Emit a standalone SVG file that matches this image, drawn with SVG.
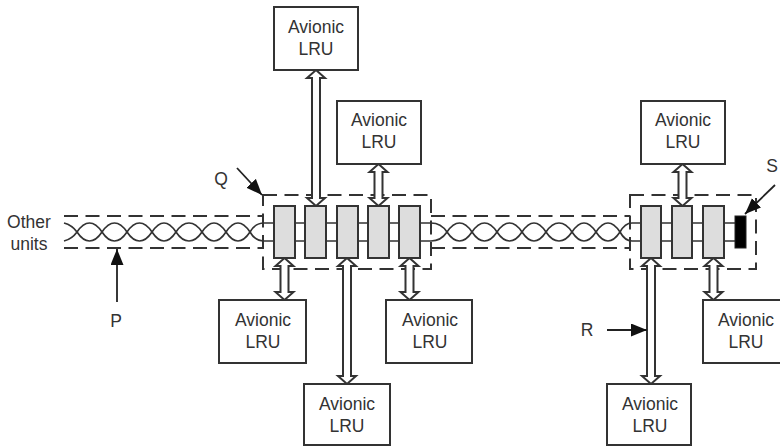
<svg xmlns="http://www.w3.org/2000/svg" width="780" height="446" viewBox="0 0 780 446">
<style>
text{font-family:"Liberation Sans",Arial,sans-serif;font-size:17.500px;fill:#333;text-anchor:middle}
.box{fill:#fff;stroke:#333;stroke-width:2}
.mod{fill:#ddd;stroke:#333;stroke-width:2}
.dash{fill:none;stroke:#333;stroke-width:2;stroke-dasharray:14 7.5}
.wire{fill:none;stroke:#333;stroke-width:1.7}
.bus{fill:#fff;stroke:#333;stroke-width:2;stroke-linejoin:miter}
.lead{fill:none;stroke:#222;stroke-width:1.8}
.term{fill:#000;stroke:#222;stroke-width:1}
</style>
<defs>
<marker id="ah" markerUnits="userSpaceOnUse" markerWidth="18" markerHeight="14" refX="16" refY="6.500" orient="auto"><path d="M0 0L16 6.500L0 13Z" fill="#111"/></marker>
<path id="twistA" d="M0 232C8 244 17 244 25 232C33 220 42 220 50 232C58 244 67 244 75 232C83 220 91 220 99 232C107 244 117 244 125 232C133 220 141 220 149 232C157 244 165 244 173 232"/>
<path id="twistB" d="M0 232C8 220 17 220 25 232C33 244 42 244 50 232C58 220 67 220 75 232C83 244 91 244 99 232C107 220 117 220 125 232C133 244 141 244 149 232C157 220 165 220 173 232"/>
</defs>
<g id="connectors">
<path class="dash" d="M64 216H263M64 248H263M431 216H630M431 248H630"/>
<path class="dash" d="M263 195H431V269H263Z"/>
<path class="dash" d="M630 195H756V269H630Z"/>
<g class="wire">
<path d="M64 223Q72 225 77 232M64 241Q72 239 77 232"/>
<use href="#twistA" x="77"/><use href="#twistB" x="77"/>
<path d="M250 232Q255 223 264 223H274M250 232Q255 241 264 241H274"/>
<path d="M420 223H431Q441 223 447 232M420 241H431Q441 241 447 232"/>
<use href="#twistA" x="447"/><use href="#twistB" x="447"/>
<path d="M620 232Q625 223 632 223H641M620 232Q625 241 632 241H641"/>
<path d="M295 223H305M295 241H305M326 223H337M326 241H337M358 223H368M358 241H368M389 223H399M389 241H399"/>
<path d="M661 223H672M661 241H672M692 223H703M692 241H703M724 223H735M724 241H735"/>
</g>
<path class="bus" d="M316 70L325 78H320V198H325L316 206L307 198H312V78H307Z"/>
<path class="bus" d="M378.500 164L387.500 172H382.500V198H387.500L378.500 206L369.500 198H374.500V172H369.500Z"/>
<path class="bus" d="M682.500 164L691.500 172H686.500V198H691.500L682.500 206L673.500 198H678.500V172H673.500Z"/>
<path class="bus" d="M284.500 258L293.500 266H288.500V292H293.500L284.500 300L275.500 292H280.500V266H275.500Z"/>
<path class="bus" d="M347 258L356 266H351V376H356L347 384L338 376H343V266H338Z"/>
<path class="bus" d="M409.500 258L418.500 266H413.500V292H418.500L409.500 300L400.500 292H405.500V266H400.500Z"/>
<path class="bus" d="M651 258L660 266H655V376H660L651 384L642 376H647V266H642Z"/>
<path class="bus" d="M713.500 258L722.500 266H717.500V292H722.500L713.500 300L704.500 292H709.500V266H704.500Z"/>
<path class="lead" marker-end="url(#ah)" d="M237 168L262 195"/>
<path class="lead" marker-end="url(#ah)" d="M775 185L745 214"/>
<path class="lead" marker-end="url(#ah)" d="M117 302V249"/>
<path class="lead" marker-end="url(#ah)" d="M607 330H647"/>
</g>
<g id="mod1"><rect class="mod" x="274" y="206" width="21" height="52"/></g>
<g id="mod2"><rect class="mod" x="305" y="206" width="21" height="52"/></g>
<g id="mod3"><rect class="mod" x="337" y="206" width="21" height="52"/></g>
<g id="mod4"><rect class="mod" x="368" y="206" width="21" height="52"/></g>
<g id="mod5"><rect class="mod" x="399" y="206" width="21" height="52"/></g>
<g id="mod6"><rect class="mod" x="641" y="206" width="20" height="52"/></g>
<g id="mod7"><rect class="mod" x="672" y="206" width="20" height="52"/></g>
<g id="mod8"><rect class="mod" x="703" y="206" width="21" height="52"/></g>
<g id="terminator"><rect class="term" x="735" y="216" width="11" height="32"/></g>
<g id="lru1"><rect class="box" x="274" y="7" width="84" height="63"/><text x="316" y="33">Avionic</text><text x="316" y="55">LRU</text></g>
<g id="lru2"><rect class="box" x="337" y="101" width="84" height="63"/><text x="379" y="126">Avionic</text><text x="379" y="148">LRU</text></g>
<g id="lru3"><rect class="box" x="641" y="101" width="84" height="63"/><text x="683" y="126">Avionic</text><text x="683" y="148">LRU</text></g>
<g id="lru4"><rect class="box" x="219" y="300" width="87" height="63"/><text x="263" y="326">Avionic</text><text x="263" y="348">LRU</text></g>
<g id="lru5"><rect class="box" x="386" y="300" width="86" height="63"/><text x="430" y="326">Avionic</text><text x="430" y="348">LRU</text></g>
<g id="lru6"><rect class="box" x="304" y="384" width="86" height="61"/><text x="347" y="410">Avionic</text><text x="347" y="432">LRU</text></g>
<g id="lru7"><rect class="box" x="607" y="384" width="84" height="61"/><text x="650" y="410">Avionic</text><text x="650" y="432">LRU</text></g>
<g id="lru8"><rect class="box" x="703" y="300" width="87" height="63"/><text x="746" y="326">Avionic</text><text x="746" y="348">LRU</text></g>
<g id="labels">
<text x="29" y="228">Other</text><text x="29" y="250">units</text>
<text x="116" y="327">P</text>
<text x="221" y="185">Q</text>
<text x="587" y="336">R</text>
<text x="772" y="172">S</text>
</g>
</svg>
